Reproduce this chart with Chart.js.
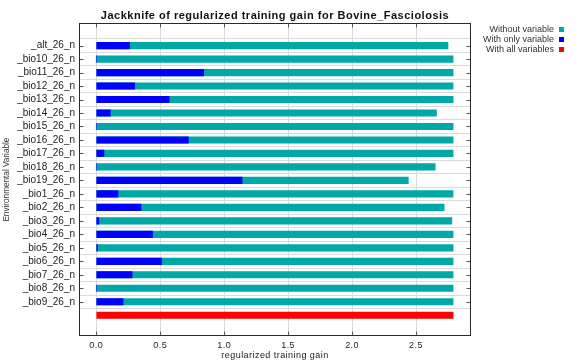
<!DOCTYPE html>
<html>
<head>
<meta charset="utf-8">
<script src="https://cdn.jsdelivr.net/npm/chart.js@4.4.1/dist/chart.umd.min.js"></script>
<style>
body { margin: 0; background: #fff; }
#wrap { position: relative; width: 577px; height: 363px; }
.leg { position: absolute; right: 13px; height: 10px; display: flex; align-items: center;
  font: 9px "Liberation Sans", Arial, sans-serif; color: #333; white-space: nowrap; }
.leg i { display: inline-block; width: 5px; height: 5px; margin-left: 5px; }
</style>
</head>
<body>
<div id="wrap">
  <canvas id="chart" width="577" height="363"></canvas>
  <div class="leg" style="top:24px">Without variable<i style="background:#00a8a8"></i></div>
  <div class="leg" style="top:34px">With only variable<i style="background:#0000ff"></i></div>
  <div class="leg" style="top:44px">With all variables<i style="background:#ff0000"></i></div>
</div>
<script>
var variables = ["_alt_26_n", "_bio10_26_n", "_bio11_26_n", "_bio12_26_n", "_bio13_26_n",
  "_bio14_26_n", "_bio15_26_n", "_bio16_26_n", "_bio17_26_n", "_bio18_26_n", "_bio19_26_n",
  "_bio1_26_n", "_bio2_26_n", "_bio3_26_n", "_bio4_26_n", "_bio5_26_n", "_bio6_26_n",
  "_bio7_26_n", "_bio8_26_n", "_bio9_26_n"];
var withoutVariable = [2.75, 2.79, 2.79, 2.79, 2.79, 2.66, 2.79, 2.79, 2.79, 2.65, 2.44,
  2.79, 2.72, 2.78, 2.79, 2.79, 2.79, 2.79, 2.79, 2.79];
var withOnlyVariable = [0.26, 0, 0.84, 0.30, 0.57, 0.11, 0, 0.72, 0.06, 0, 1.14,
  0.17, 0.35, 0.02, 0.44, 0.01, 0.51, 0.28, 0, 0.21];
var withAllVariables = 2.79;
var gainTicks = [0, 0.5, 1, 1.5, 2, 2.5];

var font = "'Liberation Sans', Arial, sans-serif";

// inward tick marks and the dark box round the plot
var frame = {
  id: 'frame',
  afterDraw: function (chart) {
    var ctx = chart.ctx, a = chart.chartArea;
    var sx = chart.scales.x, sy = chart.scales.y;
    var l = Math.round(a.left) + 0.5, r = Math.round(a.right) - 0.5;
    var t = Math.round(a.top) + 0.5, b = Math.round(a.bottom) - 0.5;
    ctx.save();
    ctx.strokeStyle = '#555';
    ctx.lineWidth = 1;
    ctx.beginPath();
    gainTicks.forEach(function (v) {
      var px = Math.round(sx.getPixelForValue(v)) + 0.5;
      ctx.moveTo(px, b); ctx.lineTo(px, b - 4);
      ctx.moveTo(px, t); ctx.lineTo(px, t + 4);
    });
    variables.forEach(function (n, i) {
      var py = Math.round(sy.getPixelForValue(i)) + 0.5;
      ctx.moveTo(l, py); ctx.lineTo(l + 4, py);
      ctx.moveTo(r, py); ctx.lineTo(r - 4, py);
    });
    ctx.stroke();
    ctx.strokeStyle = '#2a2a2a';
    ctx.strokeRect(l, t, r - l, b - t);
    ctx.restore();
  }
};

var chart = new Chart(document.getElementById('chart'), {
  type: 'bar',
  data: {
    datasets: [
      {
        label: 'Without variable',
        backgroundColor: '#00a8a8',
        data: withoutVariable.map(function (v, i) { return { x: v, y: i }; }),
        order: 2
      }, {
        label: 'With only variable',
        backgroundColor: '#0000ff',
        data: withOnlyVariable.map(function (v, i) { return { x: v, y: i }; }),
        order: 1
      }, {
        label: 'With all variables',
        backgroundColor: '#ff0000',
        data: [{ x: withAllVariables, y: variables.length }],
        order: 3
      }
    ]
  },
  options: {
    indexAxis: 'y',
    responsive: false,
    animation: false,
    datasets: { bar: { grouped: false, barThickness: 6.5 } },
    layout: { padding: { top: 0, right: 106, bottom: 0, left: 0 } },
    plugins: {
      legend: { display: false },
      tooltip: { enabled: false },
      title: {
        display: true,
        fullSize: false,
        text: 'Jackknife of regularized training gain for Bovine_Fasciolosis',
        color: '#111',
        font: { family: font, size: 11, weight: 'bold' },
        padding: { top: 9, bottom: 1 }
      }
    },
    scales: {
      x: {
        type: 'linear',
        min: -0.135,
        max: 2.93,
        afterBuildTicks: function (s) { s.ticks = gainTicks.map(function (v) { return { value: v }; }); },
        afterFit: function (s) { s.height = 27; },
        grid: { color: '#dadada', drawTicks: false },
        border: { display: false },
        ticks: {
          padding: 4,
          color: '#222',
          font: { family: font, size: 9 },
          callback: function (v) { return v.toFixed(1); }
        },
        title: {
          display: true,
          text: 'regularized training gain',
          color: '#222',
          font: { family: font, size: 9 },
          padding: { top: 0, bottom: 2 }
        }
      },
      y: {
        type: 'linear',
        reverse: true,
        min: -1.08,
        max: 20.96,
        afterBuildTicks: function (s) { s.ticks = variables.map(function (n, i) { return { value: i }; }); },
        afterFit: function (s) { s.width = 79; },
        grid: { color: '#dadada', drawTicks: false },
        border: { display: false },
        ticks: {
          padding: 4,
          color: '#222',
          autoSkip: false,
          font: { family: font, size: 10 },
          callback: function (v) { return variables[v]; }
        },
        title: {
          display: true,
          text: 'Environmental Variable',
          color: '#333',
          font: { family: font, size: 8.2 },
          padding: { top: 2, bottom: 0 }
        }
      }
    }
  },
  plugins: [frame]
});

// the original uses letter-spaced text for the title and the x axis
function spaced(obj, method, gap) {
  var fn = obj[method];
  obj[method] = function () {
    var ctx = this.ctx, old = ctx.letterSpacing;
    ctx.letterSpacing = gap;
    fn.apply(this, arguments);
    ctx.letterSpacing = old;
  };
}
spaced(chart.titleBlock, 'draw', '0.5px');
spaced(chart.scales.x, 'drawLabels', '0.45px');
spaced(chart.scales.x, 'drawTitle', '0.45px');
chart.draw();
</script>
</body>
</html>
